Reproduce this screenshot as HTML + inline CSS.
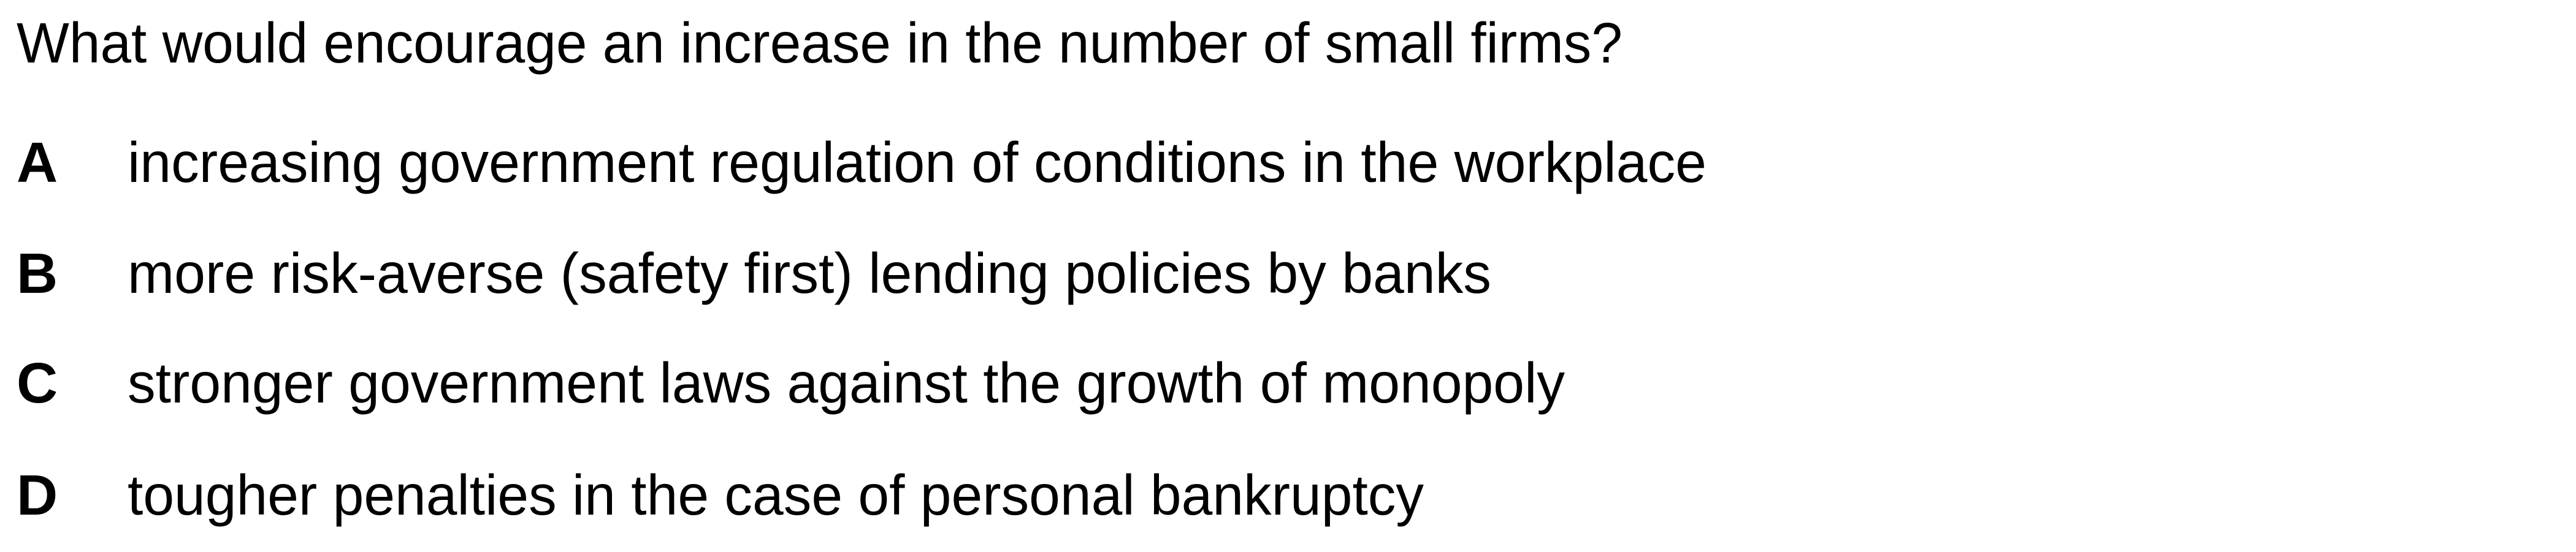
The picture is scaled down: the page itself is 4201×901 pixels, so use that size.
<!DOCTYPE html>
<html><head><meta charset="utf-8"><style>
html,body{margin:0;padding:0;background:#fff;width:4201px;height:901px;overflow:hidden}
text{font-family:"Liberation Sans",Arial,sans-serif;font-size:93px;fill:#000}
.b{font-weight:bold}
</style></head><body>
<svg width="4201" height="901" viewBox="0 0 4201 901">
<text x="27" y="102" textLength="2619" lengthAdjust="spacingAndGlyphs">What would encourage an increase in the number of small firms?</text>
<g>
<text class="b" x="27" y="297">A</text>
<text x="208" y="297" textLength="2575" lengthAdjust="spacingAndGlyphs">increasing government regulation of conditions in the workplace</text>
</g>
<g>
<text class="b" x="27" y="478">B</text>
<text x="208" y="478" textLength="2224" lengthAdjust="spacingAndGlyphs">more risk-averse (safety first) lending policies by banks</text>
</g>
<g>
<text class="b" x="27" y="657">C</text>
<text x="208" y="657" textLength="2344" lengthAdjust="spacingAndGlyphs">stronger government laws against the growth of monopoly</text>
</g>
<g>
<text class="b" x="27" y="840">D</text>
<text x="208" y="840" textLength="2114" lengthAdjust="spacingAndGlyphs">tougher penalties in the case of personal bankruptcy</text>
</g>
</svg>
</body></html>
